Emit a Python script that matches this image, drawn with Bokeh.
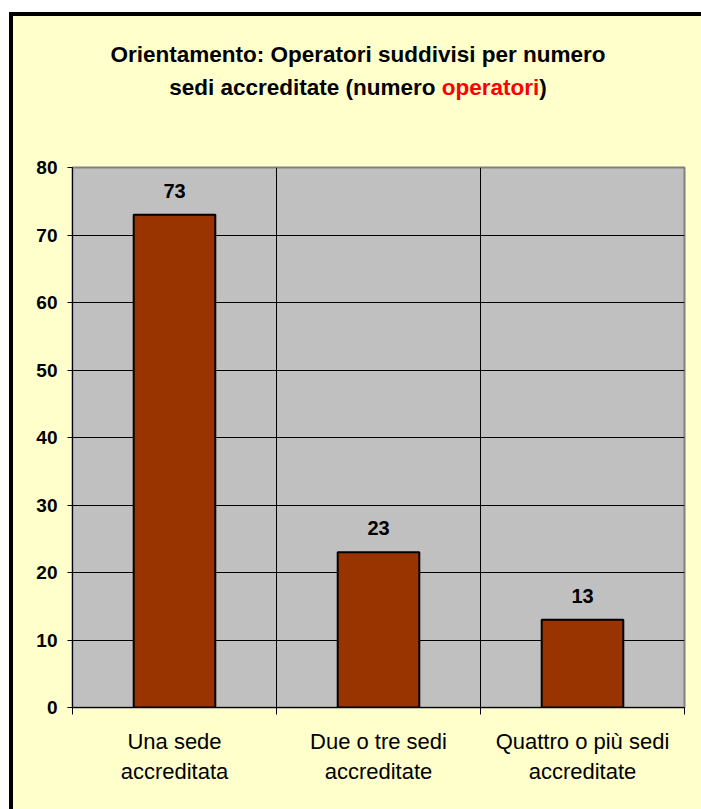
from bokeh.plotting import figure
from bokeh.models import FixedTicker, Range1d, ColumnDataSource, Div
from bokeh.layouts import column
from bokeh.embed import file_html
from bokeh.resources import INLINE
from bokeh.core.properties import value

# ---- data ----
categories = ["Una sede\naccreditata", "Due o tre sedi\naccreditate", "Quattro o più sedi\naccreditate"]
counts = [73, 23, 13]
y_ticks = [0, 10, 20, 30, 40, 50, 60, 70, 80]
title_line1 = "Orientamento: Operatori suddivisi per numero"
title_line2_parts = ["sedi accreditate (numero ", "operatori", ")"]

# ---- style ----
FONT = "Liberation Sans"
BG = "#FFFFCC"
PLOT_BG = "#C0C0C0"
BAR = "#993300"

W = 688
DIV_H = 100
FL, FT, FW, FH = 59, 151 - DIV_H, 612, 540
FIG_H = 693
NCAT = len(categories)
YMAX = y_ticks[-1]

title_html = (
    '<div style="display: block; width: %dpx; box-sizing: border-box; padding-left: 2px; '
    'font-family: \'Liberation Sans\', Arial, sans-serif; font-size: 22.5px; '
    'font-weight: bold; text-align: center; line-height: 33px; padding-top: 22px; '
    'color: black; white-space: nowrap;">' % W
    + title_line1 + "<br>" + title_line2_parts[0]
    + '<span style="color:#FF0000">' + title_line2_parts[1] + "</span>"
    + title_line2_parts[2] + "</div>"
)
title_div = Div(text=title_html, width=W, height=DIV_H,
                styles={"background-color": BG, "margin": "0", "padding": "0",
                        "text-align": "center"})

p = figure(
    frame_width=FW, frame_height=FH,
    x_range=Range1d(0, NCAT), y_range=Range1d(0, YMAX),
    output_backend="svg", toolbar_location=None,
    min_border_left=FL, min_border_top=FT,
    min_border_right=W - FL - FW, min_border_bottom=FIG_H - FT - FH,
    background_fill_color=PLOT_BG, border_fill_color=BG,
    outline_line_color="#808080", outline_line_width=2,
)

centers = [i + 0.5 for i in range(NCAT)]
LABEL_PAD_PX = 24
src = ColumnDataSource(dict(x=centers, top=counts,
                            ly=[c + LABEL_PAD_PX / (FH / YMAX) for c in counts],
                            txt=[str(c) for c in counts]))
p.vbar(x="x", top="top", width=0.4, bottom=0, source=src,
       fill_color=BAR, line_color="black", line_width=2)
p.text(x="x", y="ly", text="txt", source=src, text_align="center",
       text_baseline="alphabetic", text_font=value(FONT),
       text_font_size="20px", text_font_style="bold", text_color="black")

# grids
p.xgrid[0].ticker = FixedTicker(ticks=list(range(1, NCAT)))
p.xgrid[0].grid_line_color = "black"
p.xgrid[0].grid_line_width = 1
p.ygrid[0].ticker = FixedTicker(ticks=y_ticks[1:-1])
p.ygrid[0].grid_line_color = "black"
p.ygrid[0].grid_line_width = 1

# y axis
ya = p.yaxis[0]
ya.ticker = FixedTicker(ticks=y_ticks)
ya.axis_line_color = "black"
ya.major_tick_line_color = "black"
ya.major_tick_out = 5
ya.major_tick_in = 0
ya.minor_tick_line_color = None
ya.major_label_text_font = FONT
ya.major_label_text_font_size = "19px"
ya.major_label_text_font_style = "bold"
ya.major_label_text_color = "black"
ya.major_label_standoff = 10

# x axis
xa = p.xaxis[0]
xa.ticker = FixedTicker(ticks=centers, minor_ticks=list(range(0, NCAT + 1)))
xa.major_label_overrides = {c: lab for c, lab in zip(centers, categories)}
xa.axis_line_color = "black"
xa.major_tick_line_color = None
xa.major_tick_out = 0
xa.major_tick_in = 0
xa.minor_tick_line_color = "black"
xa.minor_tick_out = 7
xa.minor_tick_in = 0
xa.major_label_text_font = FONT
xa.major_label_text_font_size = "22px"
xa.major_label_text_color = "black"
xa.major_label_standoff = 14

layout = column(
    title_div, p, spacing=0,
    styles={"margin-left": "9px", "margin-top": "12px",
            "border-left": "4px solid black", "border-top": "4px solid black",
            "background-color": BG},
)

open("out.html", "w").write(file_html(layout, INLINE))
